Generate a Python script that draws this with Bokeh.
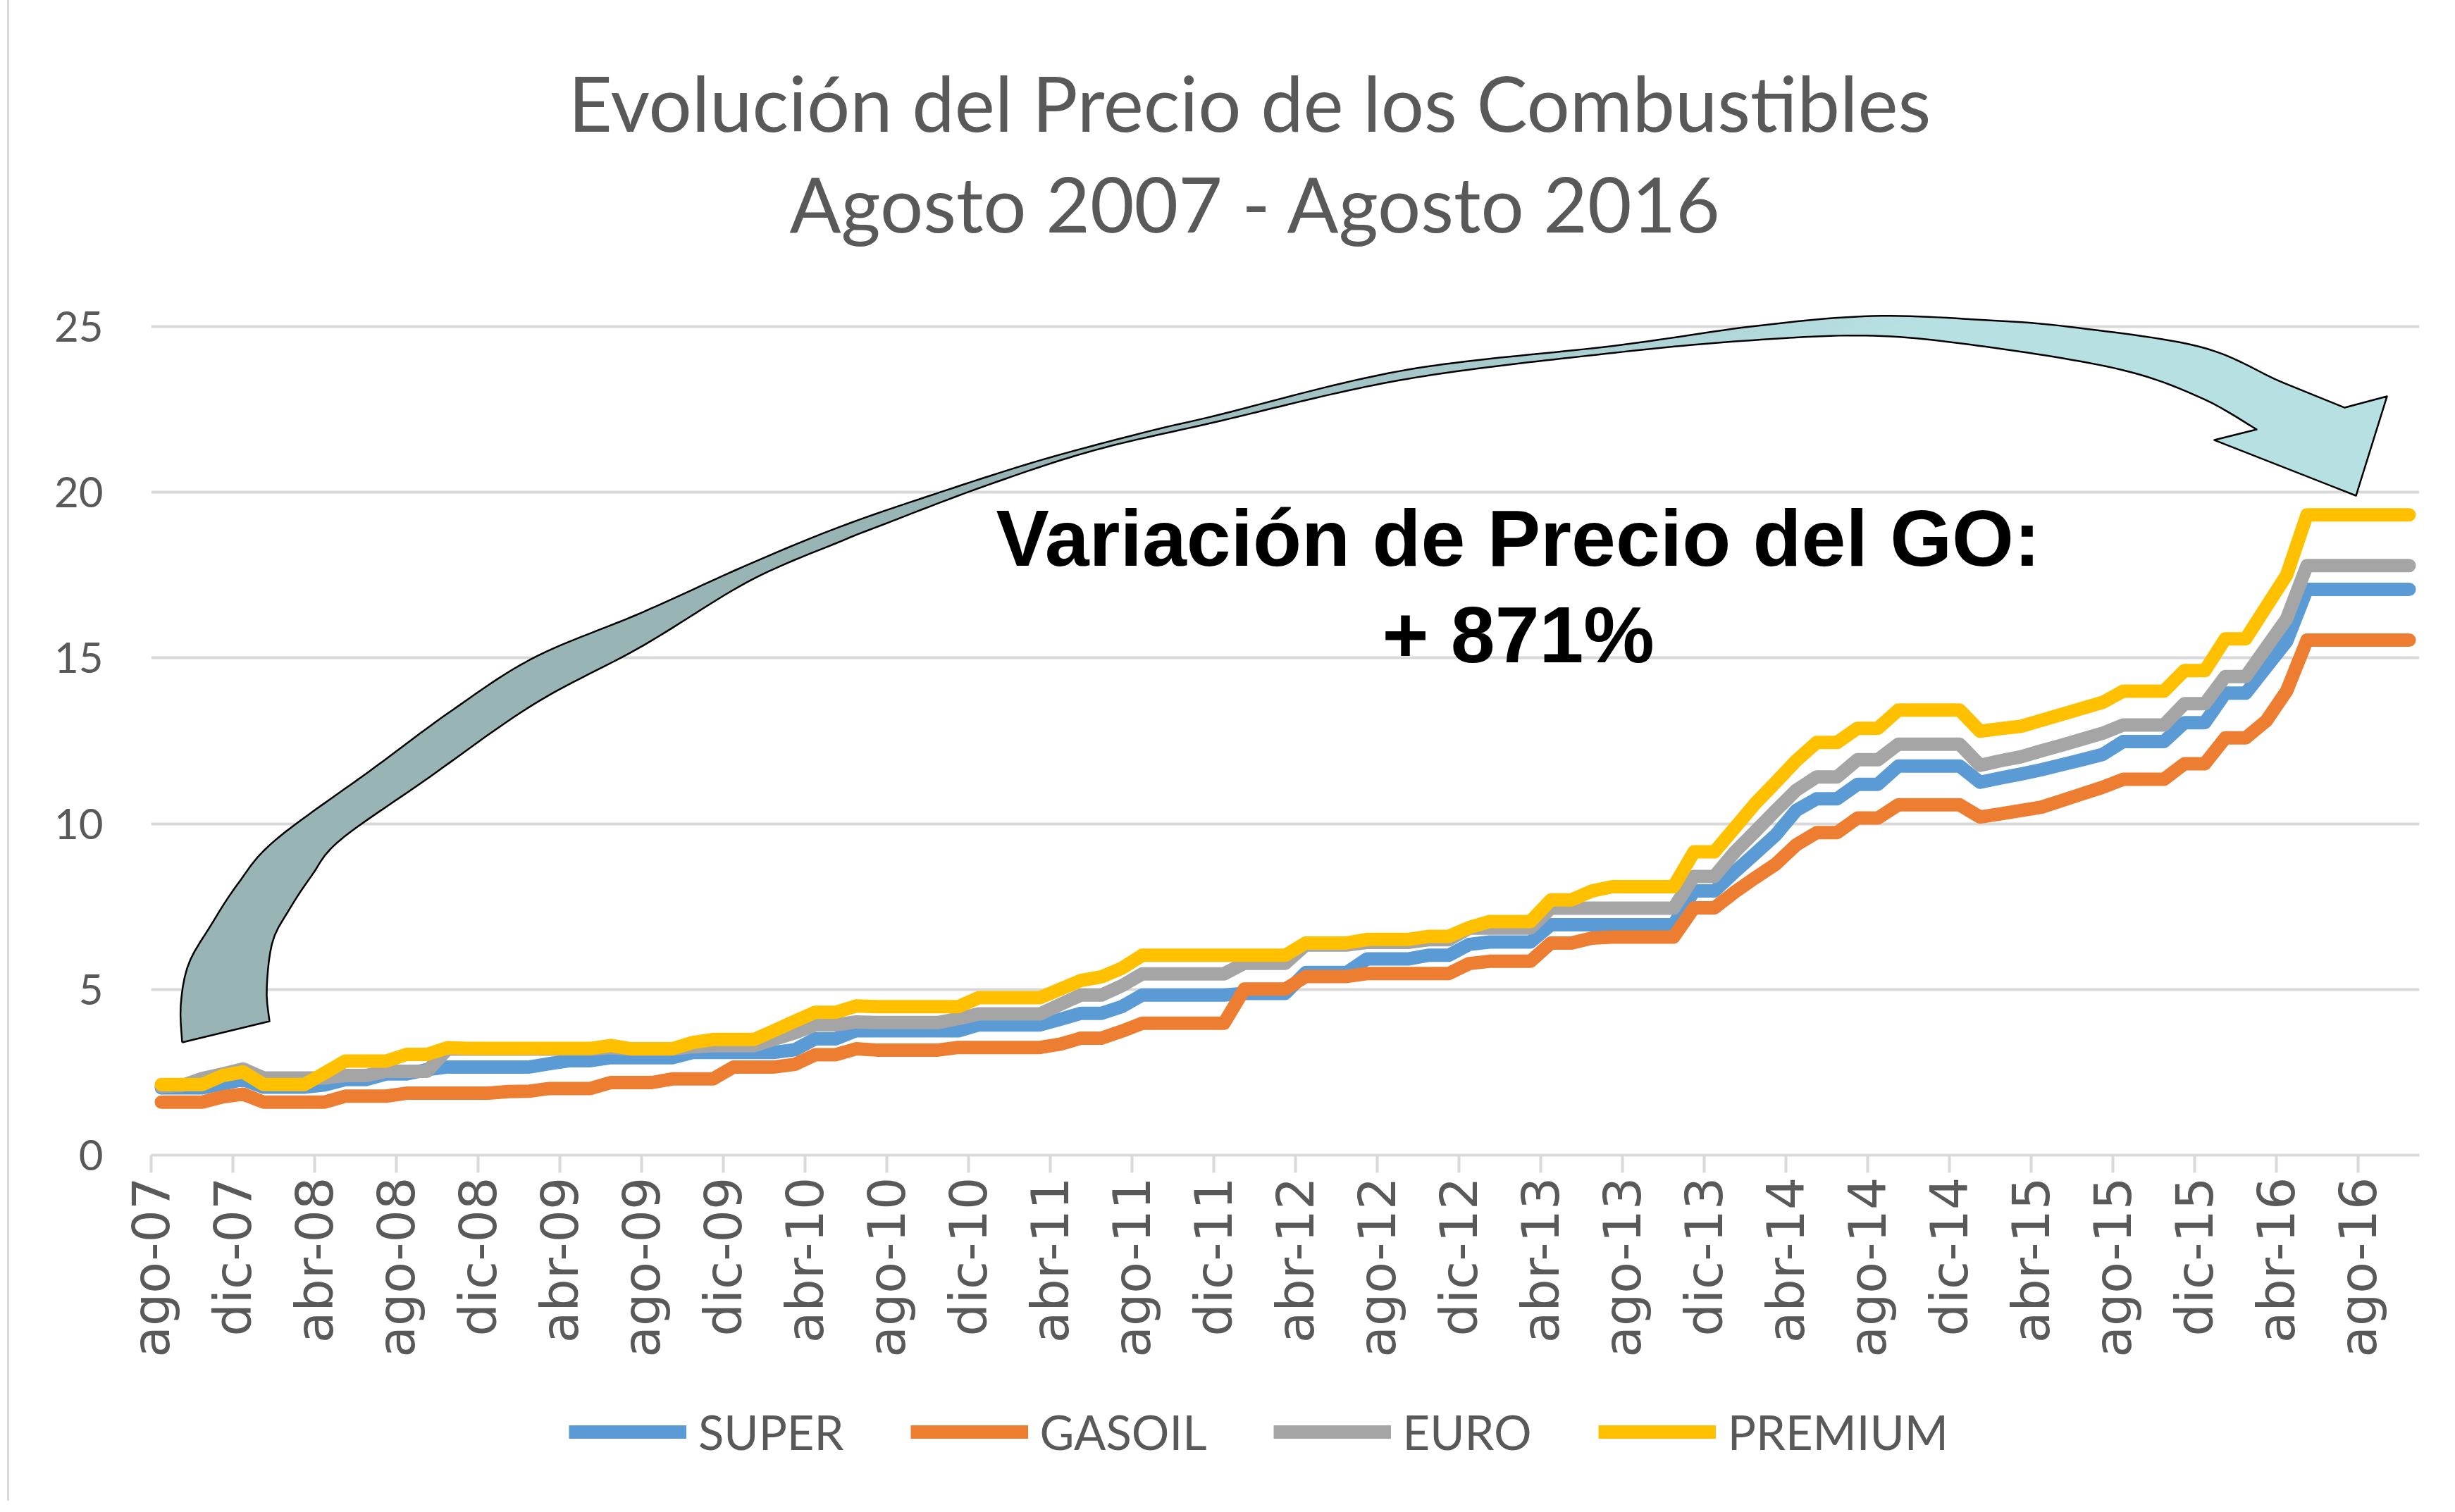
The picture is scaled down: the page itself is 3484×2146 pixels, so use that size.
import numpy as np
from bokeh.plotting import figure
from bokeh.layouts import column
from bokeh.models import Range1d, FixedTicker, Title, Legend, LegendItem
from bokeh.core.properties import value
from bokeh.embed import file_html
from bokeh.resources import INLINE

# ---------------- data (monthly, ago-07 .. oct-16) ----------------
MES_ABR = ["ene", "feb", "mar", "abr", "may", "jun", "jul", "ago", "sep", "oct", "nov", "dic"]
MESES = [f"{MES_ABR[(7 + i) % 12]}-{7 + (7 + i) // 12:02d}" for i in range(111)]

TICK_LABELS = ["ago-07", "dic-07", "abr-08", "ago-08", "dic-08", "abr-09", "ago-09",
               "dic-09", "abr-10", "ago-10", "dic-10", "abr-11", "ago-11", "dic-11",
               "abr-12", "ago-12", "dic-12", "abr-13", "ago-13", "dic-13", "abr-14",
               "ago-14", "dic-14", "abr-15", "ago-15", "dic-15", "abr-16", "ago-16"]

SUPER = [2.03, 2.03, 2.03, 2.15, 2.28, 2.05, 2.05, 2.05, 2.12, 2.28, 2.28, 2.45, 2.45, 2.58,
         2.66, 2.66, 2.66, 2.66, 2.66, 2.76, 2.85, 2.85, 2.94, 2.94, 2.94, 2.94,
         3.10, 3.10, 3.10, 3.10, 3.10, 3.18, 3.51, 3.51, 3.76, 3.75, 3.75, 3.75, 3.75, 3.75,
         3.93, 3.93, 3.93, 3.93, 4.10, 4.28, 4.28, 4.48, 4.83, 4.83, 4.83, 4.83, 4.83,
         4.88, 4.88, 4.88, 5.51, 5.51, 5.51, 5.92, 5.92, 5.92, 6.03, 6.03, 6.36, 6.43, 6.43, 6.43,
         6.95, 6.95, 6.95, 6.95, 6.95, 6.95, 6.95, 7.97, 7.97, 8.55, 9.10, 9.66, 10.40,
         10.75, 10.75, 11.19, 11.19, 11.74, 11.74, 11.74, 11.74,
         11.25, 11.38, 11.50, 11.63, 11.78, 11.93, 12.09, 12.48, 12.48, 12.48,
         13.05, 13.05, 13.94, 13.94, 14.72, 15.50, 17.07, 17.07, 17.07, 17.07, 17.07, 17.07]

GASOIL = [1.60, 1.60, 1.60, 1.76, 1.84, 1.60, 1.60, 1.60, 1.60, 1.78, 1.78, 1.78,
          1.87, 1.87, 1.87, 1.87, 1.87, 1.92, 1.93, 2.01, 2.01, 2.01, 2.19, 2.19, 2.19,
          2.30, 2.30, 2.30, 2.66, 2.66, 2.66, 2.74, 3.03, 3.03, 3.21, 3.17, 3.17, 3.17, 3.17,
          3.25, 3.25, 3.25, 3.25, 3.25, 3.35, 3.53, 3.53, 3.74, 3.98, 3.98, 3.98, 3.98, 3.98,
          5.01, 5.01, 5.01, 5.39, 5.39, 5.39, 5.48, 5.48, 5.48, 5.48, 5.48, 5.78, 5.85, 5.85, 5.85,
          6.40, 6.40, 6.55, 6.58, 6.58, 6.58, 6.58, 7.46, 7.46, 7.94, 8.37, 8.78, 9.36,
          9.73, 9.73, 10.17, 10.17, 10.57, 10.57, 10.57, 10.57,
          10.20, 10.30, 10.40, 10.50, 10.70, 10.90, 11.10, 11.34, 11.34, 11.34,
          11.81, 11.81, 12.59, 12.59, 13.10, 14.00, 15.54, 15.54, 15.54, 15.54, 15.54, 15.54]

EURO = [2.07, 2.10, 2.31, 2.45, 2.60, 2.33, 2.33, 2.33, 2.33, 2.40, 2.40, 2.53, 2.53, 2.53,
        3.20, 3.20, 3.20, 3.20, 3.20, 3.20, 3.20, 3.20, 3.24, 3.20, 3.20, 3.20,
        3.27, 3.30, 3.30, 3.30, 3.50, 3.69, 3.93, 3.93, 4.02, 4.00, 4.00, 4.00, 4.00, 4.12,
        4.26, 4.26, 4.26, 4.26, 4.55, 4.83, 4.83, 5.11, 5.47, 5.47, 5.47, 5.47, 5.47,
        5.79, 5.79, 5.79, 6.34, 6.34, 6.34, 6.42, 6.42, 6.42, 6.50, 6.50, 6.85, 6.85, 6.85, 6.85,
        7.45, 7.45, 7.45, 7.45, 7.45, 7.45, 7.45, 8.41, 8.41, 9.15, 9.77, 10.40, 11.01,
        11.41, 11.41, 11.93, 11.93, 12.40, 12.40, 12.40, 12.40,
        11.76, 11.90, 12.02, 12.20, 12.37, 12.55, 12.73, 12.98, 12.98, 12.98,
        13.62, 13.62, 14.44, 14.44, 15.31, 16.18, 17.79, 17.79, 17.79, 17.79, 17.79, 17.79]

PREMIUM = [2.13, 2.13, 2.13, 2.40, 2.51, 2.13, 2.13, 2.13, 2.48, 2.84, 2.84, 2.84, 3.04, 3.04,
           3.24, 3.22, 3.22, 3.22, 3.22, 3.22, 3.22, 3.22, 3.31, 3.21, 3.21, 3.21,
           3.40, 3.49, 3.49, 3.49, 3.76, 4.04, 4.31, 4.31, 4.50, 4.48, 4.48, 4.48, 4.48, 4.48,
           4.75, 4.75, 4.75, 4.75, 5.01, 5.27, 5.38, 5.64, 6.03, 6.03, 6.03, 6.03, 6.03,
           6.03, 6.03, 6.03, 6.40, 6.40, 6.40, 6.51, 6.51, 6.51, 6.60, 6.60, 6.87, 7.05, 7.05, 7.05,
           7.70, 7.70, 7.97, 8.10, 8.10, 8.10, 8.10, 9.15, 9.15, 9.88, 10.61, 11.25, 11.90,
           12.45, 12.45, 12.88, 12.88, 13.43, 13.43, 13.43, 13.43,
           12.79, 12.87, 12.94, 13.12, 13.30, 13.48, 13.66, 14.00, 14.00, 14.00,
           14.62, 14.62, 15.58, 15.58, 16.54, 17.50, 19.32, 19.32, 19.32, 19.32, 19.32, 19.32]

SERIES = ["SUPER", "GASOIL", "EURO", "PREMIUM"]
COLORS = ["#5B9BD5", "#ED7D31", "#A5A5A5", "#FFC000"]

TITLE_1 = "Evolución del Precio de los Combustibles"
TITLE_2 = "Agosto 2007 - Agosto 2016"
NOTE_1 = "Variación de Precio del GO:"
NOTE_2 = "+ 871%"

# ---------------- main figure ----------------
W = 3468
H1, H2 = 1980, 150
BORDER_CSS = {"background": "linear-gradient(to right, #ffffff 0px, #ffffff 10px, "
                            "#D9D9D9 10px, #D9D9D9 13px, #ffffff 13px)"}
N_M = len(MESES)
p = figure(width=W, height=H1, x_range=Range1d(0, N_M), y_range=Range1d(0, 25.66),
           output_backend="svg", toolbar_location=None, title=None,
           min_border_left=214, min_border_right=35, min_border_top=432,
           min_border_bottom=H1 - 1639, styles=BORDER_CSS)
p.outline_line_color = None
p.background_fill_color = "white"
p.border_fill_alpha = 0

# x axis
ticks = [i for i in range(0, N_M, 4)][:len(TICK_LABELS)]
p.xaxis.ticker = FixedTicker(ticks=ticks)
p.xaxis.major_label_overrides = {t: lab for t, lab in zip(ticks, TICK_LABELS)}
p.xaxis.major_label_orientation = np.pi / 2
p.xaxis.major_label_text_font = "DejaVu Sans"
p.xaxis.major_label_text_font_size = "73px"
p.xaxis.major_label_text_color = "#595959"
p.xaxis.axis_line_color = "#D9D9D9"
p.xaxis.axis_line_width = 4
p.xaxis.major_tick_line_color = "#D9D9D9"
p.xaxis.major_tick_line_width = 4
p.xaxis.major_tick_out = 25
p.xaxis.major_tick_in = 0
p.xaxis.minor_tick_line_color = None
p.xaxis.major_label_standoff = 6

# y axis
p.yaxis.ticker = FixedTicker(ticks=[0, 5, 10, 15, 20, 25])
p.yaxis.axis_line_color = None
p.yaxis.major_tick_line_color = None
p.yaxis.minor_tick_line_color = None
p.yaxis.major_label_text_font = "Lato"
p.yaxis.major_label_text_font_size = "60px"
p.yaxis.major_label_text_color = "#595959"
p.yaxis.major_label_standoff = 62

p.xgrid.grid_line_color = None
p.ygrid.grid_line_color = "#D9D9D9"
p.ygrid.grid_line_width = 4

# ---------------- curved block arrow (decoration, drawn in page pixels) ----------------
def px2x(px):
    return (np.asarray(px, float) - 222.0) / 29.0

def py2y(py):
    return (1647.0 - np.asarray(py, float)) / 47.04

ARROW_OUTER = [(266, 1487), (264, 1434), (275, 1376), (306, 1322), (345, 1262), (398, 1200),
               (536, 1099), (650, 1015), (765, 941), (918, 877), (1071, 808), (1200, 755),
               (1330, 710), (1483, 661), (1636, 620), (1730, 598), (2000, 533), (2300, 498),
               (2500, 470), (2667, 456), (2829, 462), (2950, 472), (3131, 500), (3244, 549),
               (3335, 586)]
ARROW_INNER = [(390, 1457), (386, 1412), (394, 1345), (417, 1300), (450, 1250), (490, 1200),
               (612, 1114), (765, 1007), (918, 925), (1071, 832), (1200, 776), (1253, 755),
               (1406, 697), (1559, 647), (1730, 607), (2000, 546), (2300, 508), (2500, 490),
               (2667, 484), (2829, 500), (3017, 532), (3131, 572), (3210, 617)]
ARROW_HEAD = [(3335, 586), (3395, 570), (3351, 711), (3150, 632), (3210, 617)]


def catmull(pts, n=16):
    P = np.asarray(pts, float)
    P = np.vstack([P[0], P, P[-1]])
    out = []
    for i in range(1, len(P) - 2):
        p0, p1, p2_, p3 = P[i - 1], P[i], P[i + 1], P[i + 2]
        for t in np.linspace(0, 1, n, endpoint=False):
            t2, t3 = t * t, t * t * t
            out.append(0.5 * ((2 * p1) + (-p0 + p2_) * t + (2 * p0 - 5 * p1 + 4 * p2_ - p3) * t2
                              + (-p0 + 3 * p1 - 3 * p2_ + p3) * t3))
    out.append(P[-2])
    return np.array(out)


def resample(c, n):
    d = np.r_[0, np.cumsum(np.hypot(*np.diff(c, axis=0).T))]
    s = np.linspace(0, d[-1], n)
    return np.c_[np.interp(s, d, c[:, 0]), np.interp(s, d, c[:, 1])]


NQ = 260
outer = resample(catmull(ARROW_OUTER), NQ)
inner = resample(catmull(ARROW_INNER), NQ)
c_left = np.array([152, 180, 181], float)
c_right = np.array([183, 224, 227], float)
qx, qy, qc = [], [], []
for i in range(NQ - 1):
    quad = np.array([outer[i], outer[i + 1], inner[i + 1], inner[i]])
    xm = quad[:, 0].mean()
    t = np.clip((xm - 1500) / 1200.0, 0, 1)
    c = (c_left * (1 - t) + c_right * t).round().astype(int)
    qx.append(list(px2x(quad[:, 0])))
    qy.append(list(py2y(quad[:, 1])))
    qc.append("#%02x%02x%02x" % tuple(c))
p.patches(qx, qy, fill_color=qc, line_color=qc, line_width=1.2)
head = np.array(ARROW_HEAD, float)
p.patch(px2x(head[:, 0]), py2y(head[:, 1]), fill_color="#B7E0E3", line_color="#B7E0E3", line_width=1)
outline = np.vstack([outer, head[1:4], inner[::-1], outer[:1]])
p.line(px2x(outline[:, 0]), py2y(outline[:, 1]), line_color="black", line_width=2.5, line_join="round")

# ---------------- series ----------------
xs = [i + 0.5 for i in range(N_M)]
for name, vals, col in zip(SERIES, [SUPER, GASOIL, EURO, PREMIUM], COLORS):
    p.line(xs, vals, line_color=col, line_width=19, line_join="round", line_cap="round")

# ---------------- annotation text ----------------
p.text(x=[66.9, 66.9], y=[18.62, 15.69], text=[NOTE_1, NOTE_2],
       text_font=value("Liberation Sans"), text_font_style="bold", text_font_size="113px",
       text_color="black", text_align="center", text_baseline="middle")

# ---------------- titles (stacked upward from the frame) ----------------
spacer = Title(text=" ", text_font_size="1px", standoff=70)
p.add_layout(spacer, "above")
t2 = Title(text=TITLE_2, align="left", offset=906, standoff=14, text_font="Lato",
           text_font_size="108px", text_color="#595959", text_font_style="normal")
p.add_layout(t2, "above")
t1 = Title(text=TITLE_1, align="left", offset=592, standoff=8, text_font="Lato",
           text_font_size="108px", text_color="#595959", text_font_style="normal")
p.add_layout(t1, "above")

# ---------------- legend strip (below the axis labels) ----------------
pl = figure(width=W, height=H2, x_range=Range1d(0, 1), y_range=Range1d(0, 1),
            output_backend="svg", toolbar_location=None, title=None,
            x_axis_type=None, y_axis_type=None, min_border=0, styles=BORDER_CSS)
pl.outline_line_color = None
pl.background_fill_alpha = 0
pl.border_fill_alpha = 0
pl.grid.visible = False
items = []
for name, col in zip(SERIES, COLORS):
    # legend swatches only: the points lie outside the strip's ranges
    r = pl.line(x=[-5, -4], y=[-5, -5], line_color=col, line_width=19)
    items.append(LegendItem(label=name, renderers=[r]))
legend = Legend(items=items, orientation="horizontal", location=(593, 58),
                glyph_width=167, glyph_height=20, label_standoff=17, spacing=94,
                padding=0, margin=0, border_line_color=None, background_fill_alpha=0,
                label_text_font="Lato", label_text_font_size="67px", label_text_color="#595959")
pl.add_layout(legend, "center")

layout = column(p, pl, spacing=0)
open("out.html", "w").write(file_html(layout, INLINE))
